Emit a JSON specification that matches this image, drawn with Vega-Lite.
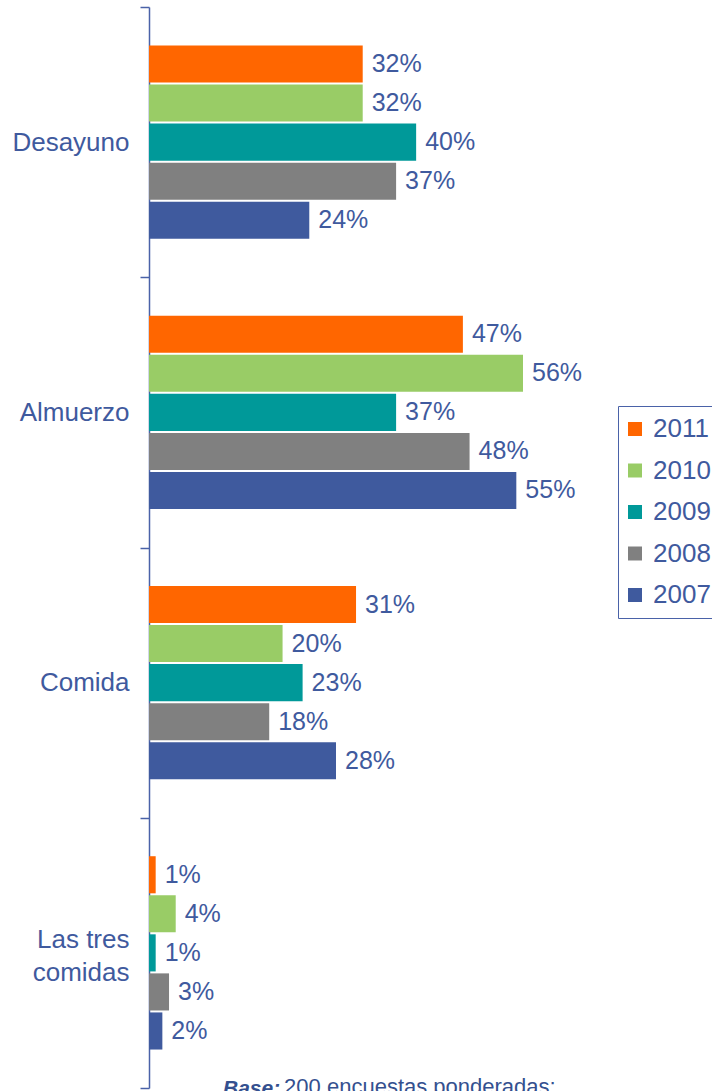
{
  "$schema": "https://vega.github.io/schema/vega-lite/v6.json",
  "width": 563,
  "height": 1081,
  "autosize": {"type": "none"},
  "padding": {"left": 149, "top": 7, "right": 0, "bottom": 3},
  "background": "white",
  "config": {"view": {"stroke": null}, "font": "Liberation Sans"},
  "title": {
    "text": "Base:",
    "subtitle": "\u200b\u00a0\u00a0\u00a0\u00a0\u00a0\u00a0\u00a0\u00a0\u00a0\u00a0200 encuestas ponderadas;",
    "orient": "bottom",
    "anchor": "start",
    "frame": "group",
    "offset": -11,
    "dx": 74,
    "fontSize": 21,
    "fontWeight": "bold",
    "fontStyle": "italic",
    "color": "#34508F",
    "subtitleFontSize": 22,
    "subtitleColor": "#34508F",
    "subtitlePadding": -22,
    "baseline": "top"
  },
  "data": {
    "values": [
      {"meal": "Desayuno", "year": "2011", "value": 0.32},
      {"meal": "Desayuno", "year": "2010", "value": 0.32},
      {"meal": "Desayuno", "year": "2009", "value": 0.40},
      {"meal": "Desayuno", "year": "2008", "value": 0.37},
      {"meal": "Desayuno", "year": "2007", "value": 0.24},
      {"meal": "Almuerzo", "year": "2011", "value": 0.47},
      {"meal": "Almuerzo", "year": "2010", "value": 0.56},
      {"meal": "Almuerzo", "year": "2009", "value": 0.37},
      {"meal": "Almuerzo", "year": "2008", "value": 0.48},
      {"meal": "Almuerzo", "year": "2007", "value": 0.55},
      {"meal": "Comida", "year": "2011", "value": 0.31},
      {"meal": "Comida", "year": "2010", "value": 0.20},
      {"meal": "Comida", "year": "2009", "value": 0.23},
      {"meal": "Comida", "year": "2008", "value": 0.18},
      {"meal": "Comida", "year": "2007", "value": 0.28},
      {"meal": "Las tres comidas", "year": "2011", "value": 0.01},
      {"meal": "Las tres comidas", "year": "2010", "value": 0.04},
      {"meal": "Las tres comidas", "year": "2009", "value": 0.01},
      {"meal": "Las tres comidas", "year": "2008", "value": 0.03},
      {"meal": "Las tres comidas", "year": "2007", "value": 0.02}
    ]
  },
  "encoding": {
    "y": {
      "field": "meal",
      "type": "nominal",
      "sort": ["Desayuno", "Almuerzo", "Comida", "Las tres comidas"],
      "scale": {"paddingInner": 0, "paddingOuter": 0},
      "axis": {
        "title": null,
        "domainColor": "#4A62A8",
        "domainWidth": 1.5,
        "tickColor": "#4A62A8",
        "tickWidth": 1.5,
        "tickSize": 9,
        "tickBand": "extent",
        "labelFontSize": 26,
        "labelColor": "#3F5A9E",
        "labelPadding": 11,
        "labelLineHeight": 33,
        "labelLimit": 200,
        "labelOffset": {"condition": {"test": "datum.value == 'Las tres comidas'", "value": -13}, "value": 0},
        "labelExpr": "datum.label == 'Las tres comidas' ? ['Las tres', 'comidas'] : datum.label"
      }
    },
    "yOffset": {
      "field": "year",
      "type": "nominal",
      "sort": ["2011", "2010", "2009", "2008", "2007"],
      "scale": {"paddingInner": 0.05, "paddingOuter": 0.985}
    },
    "x": {
      "field": "value",
      "type": "quantitative",
      "scale": {"domain": [0, 0.843]},
      "axis": null
    }
  },
  "layer": [
    {
      "mark": {"type": "bar"},
      "encoding": {
        "color": {
          "field": "year",
          "type": "nominal",
          "scale": {
            "domain": ["2011", "2010", "2009", "2008", "2007"],
            "range": ["#FF6600", "#99CC66", "#009999", "#808080", "#3F5A9E"]
          },
          "legend": {
            "title": null,
            "orient": "none",
            "legendX": 469,
            "legendY": 399,
            "strokeColor": "#4A62A8",
            "fillColor": "white",
            "padding": 10,
            "symbolType": "square",
            "symbolSize": 196,
            "symbolStrokeWidth": 0,
            "symbolOffset": -6,
            "labelFontSize": 26,
            "labelColor": "#3F5A9E",
            "rowPadding": 15.5,
            "labelOffset": 5,
            "labelLimit": 200
          }
        }
      }
    },
    {
      "mark": {"type": "text", "align": "left", "baseline": "middle", "dx": 9, "fontSize": 25, "color": "#3F5A9E"},
      "encoding": {
        "text": {"field": "value", "type": "quantitative", "format": ".0%"}
      }
    }
  ]
}
